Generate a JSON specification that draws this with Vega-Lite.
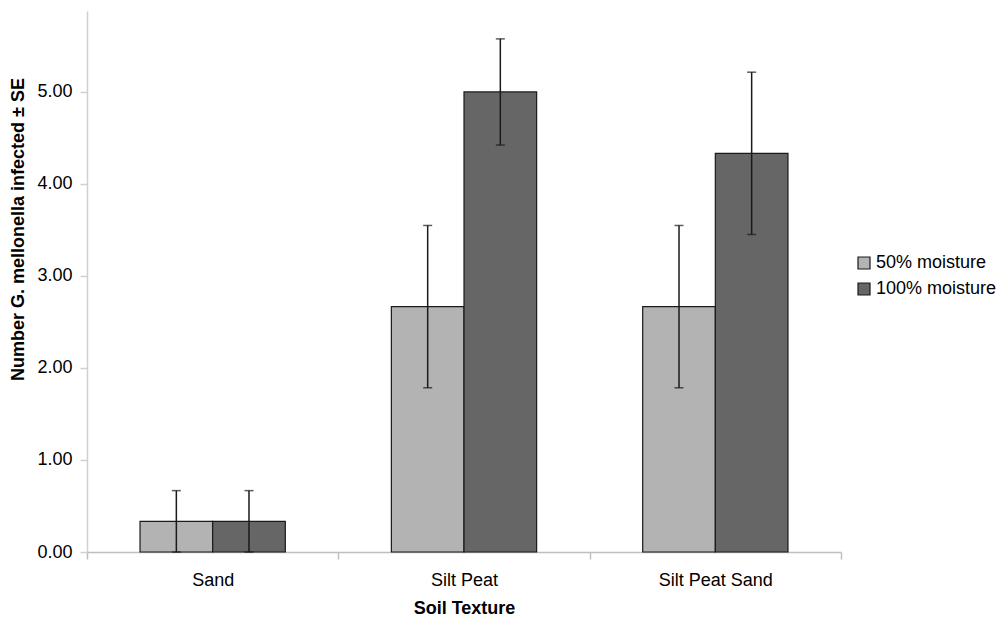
{
  "$schema": "https://vega.github.io/schema/vega-lite/v6.json",
  "autosize": {"type": "none"},
  "width": 754,
  "height": 541,
  "padding": {"left": 87, "top": 11, "right": 156, "bottom": 65},
  "background": "white",
  "config": {
    "view": {"stroke": null},
    "font": "Liberation Sans",
    "axis": {"grid": false, "labelFont": "Liberation Sans", "titleFont": "Liberation Sans", "labelColor": "#000", "titleColor": "#000"},
    "legend": {"labelFont": "Liberation Sans"}
  },
  "data": {
    "values": [
      {"soil": "Sand", "moisture": "50% moisture", "mean": 0.333, "lo": 0.0, "hi": 0.667},
      {"soil": "Sand", "moisture": "100% moisture", "mean": 0.333, "lo": 0.0, "hi": 0.667},
      {"soil": "Silt Peat", "moisture": "50% moisture", "mean": 2.667, "lo": 1.785, "hi": 3.549},
      {"soil": "Silt Peat", "moisture": "100% moisture", "mean": 5.0, "lo": 4.423, "hi": 5.577},
      {"soil": "Silt Peat Sand", "moisture": "50% moisture", "mean": 2.667, "lo": 1.785, "hi": 3.549},
      {"soil": "Silt Peat Sand", "moisture": "100% moisture", "mean": 4.333, "lo": 3.451, "hi": 5.215}
    ]
  },
  "encoding": {
    "x": {
      "field": "soil", "type": "nominal", "sort": ["Sand", "Silt Peat", "Silt Peat Sand"],
      "scale": {"paddingInner": 0, "paddingOuter": 0},
      "axis": {
        "title": "Soil Texture", "titleFontSize": 18, "titleFontWeight": "bold",
        "titleY": 56, "titleBaseline": "middle",
        "labelFontSize": 18, "labelAngle": 0, "labelPadding": 12,
        "tickBand": "extent", "tickSize": 7, "tickColor": "#bfbfbf", "tickWidth": 1.5,
        "domainColor": "#bfbfbf", "domainWidth": 1.5
      }
    },
    "xOffset": {
      "field": "moisture", "type": "nominal", "sort": ["50% moisture", "100% moisture"],
      "scale": {"paddingInner": 0, "paddingOuter": 0.73}
    }
  },
  "layer": [
    {
      "mark": {"type": "bar", "stroke": "#1a1a1a", "strokeWidth": 1.2},
      "encoding": {
        "y": {
          "field": "mean", "type": "quantitative",
          "scale": {"domain": [0, 5.88], "nice": false, "zero": true},
          "axis": {
            "title": "Number G. mellonella infected ± SE", "titleFontSize": 18, "titleFontWeight": "bold",
            "titleX": -69, "titleY": 218, "titleAngle": -90, "titleAlign": "center", "titleBaseline": "middle",
            "values": [0, 1, 2, 3, 4, 5], "format": ".2f",
            "labelFontSize": 18, "labelPadding": 8,
            "tickSize": 7, "tickColor": "#d0d0d0", "tickWidth": 1.5,
            "domainColor": "#d0d0d0", "domainWidth": 1.5
          }
        },
        "fill": {
          "field": "moisture", "type": "nominal", "sort": ["50% moisture", "100% moisture"],
          "scale": {"domain": ["50% moisture", "100% moisture"], "range": ["#b3b3b3", "#666666"]},
          "legend": {
            "title": null, "orient": "none", "legendX": 768, "legendY": 243,
            "labelFontSize": 18, "symbolType": "square", "symbolSize": 144,
            "symbolStrokeColor": "#1a1a1a", "symbolStrokeWidth": 1.2,
            "rowPadding": 8, "labelOffset": 3
          }
        }
      }
    },
    {
      "mark": {"type": "rule", "color": "#1a1a1a", "strokeWidth": 1.5},
      "encoding": {
        "y": {"field": "lo", "type": "quantitative"},
        "y2": {"field": "hi"}
      }
    },
    {
      "mark": {"type": "tick", "color": "#1a1a1a", "size": 9, "thickness": 1.5},
      "encoding": {
        "y": {"field": "hi", "type": "quantitative"}
      }
    },
    {
      "mark": {"type": "tick", "color": "#1a1a1a", "size": 9, "thickness": 1.5},
      "encoding": {
        "y": {"field": "lo", "type": "quantitative"}
      }
    }
  ]
}
